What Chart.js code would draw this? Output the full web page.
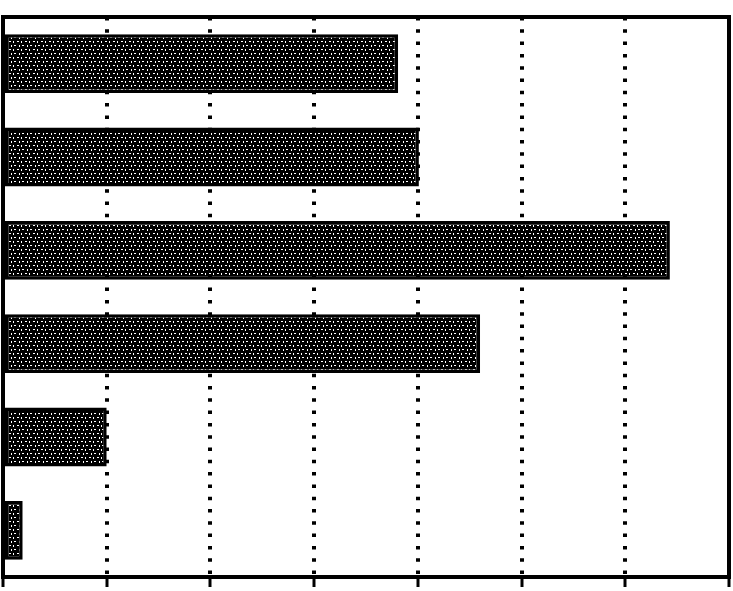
<!DOCTYPE html>
<html>
<head>
<meta charset="utf-8">
<script src="https://cdn.jsdelivr.net/npm/chart.js@4/dist/chart.umd.min.js"></script>
<style>
  html, body { margin: 0; padding: 0; background: #fff; }
  #wrap { width: 733px; height: 591px; }
</style>
</head>
<body>
<div id="wrap"><canvas id="c"></canvas></div>
<script>
// Data (no readable labels in the picture)
const categories = ["1", "2", "3", "4", "5", "6"];
const values = [3.81, 4.01, 6.43, 4.60, 1.00, 0.19];
const xTicks = [0, 1, 2, 3, 4, 5, 6, 7];

// dark stipple pattern for the bars
function makePattern() {
  const p = document.createElement('canvas');
  p.width = 8; p.height = 8;
  const g = p.getContext('2d');
  g.fillStyle = '#000';
  g.fillRect(0, 0, 8, 8);
  g.fillStyle = '#fff';
  g.fillRect(1, 1, 2, 1);
  g.fillRect(5, 1, 1, 2);
  g.fillRect(3, 5, 1, 2);
  g.fillRect(7, 5, 1, 1);
  g.fillRect(6, 5, 1, 1);
  return document.getElementById('c').getContext('2d').createPattern(p, 'repeat');
}

const frame = {
  id: 'frame',
  afterDraw(chart) {
    const { ctx, chartArea: a } = chart;
    ctx.save();
    ctx.strokeStyle = '#000';
    ctx.lineWidth = 4;
    ctx.strokeRect(a.left, a.top, a.right - a.left, a.bottom - a.top);
    ctx.restore();
  }
};

new Chart(document.getElementById('c'), {
  type: 'bar',
  data: {
    labels: categories,
    datasets: [{
      data: values,
      backgroundColor: makePattern(),
      borderColor: '#000',
      borderWidth: 3.5,
      borderSkipped: false,
      categoryPercentage: 1.0,
      barPercentage: 0.63
    }]
  },
  options: {
    indexAxis: 'y',
    responsive: true,
    maintainAspectRatio: false,
    animation: false,
    layout: { padding: { left: 3, right: 4, top: 17, bottom: 4 } },
    plugins: { legend: { display: false }, tooltip: { enabled: false } },
    scales: {
      x: {
        min: xTicks[0],
        max: xTicks[xTicks.length - 1],
        afterBuildTicks(scale) { scale.ticks = xTicks.map(v => ({ value: v })); },
        ticks: { display: false },
        grid: {
          color: '#000',
          lineWidth: 4,
          drawTicks: true,
          tickLength: 10,
          tickWidth: 3,
          tickColor: '#000',
          tickBorderDash: []
        },
        border: { display: true, color: '#000', width: 4, dash: [3.5, 8.8], dashOffset: 0 }
      },
      y: {
        display: false,
        grid: { display: false }
      }
    }
  },
  plugins: [frame]
});
</script>
</body>
</html>
